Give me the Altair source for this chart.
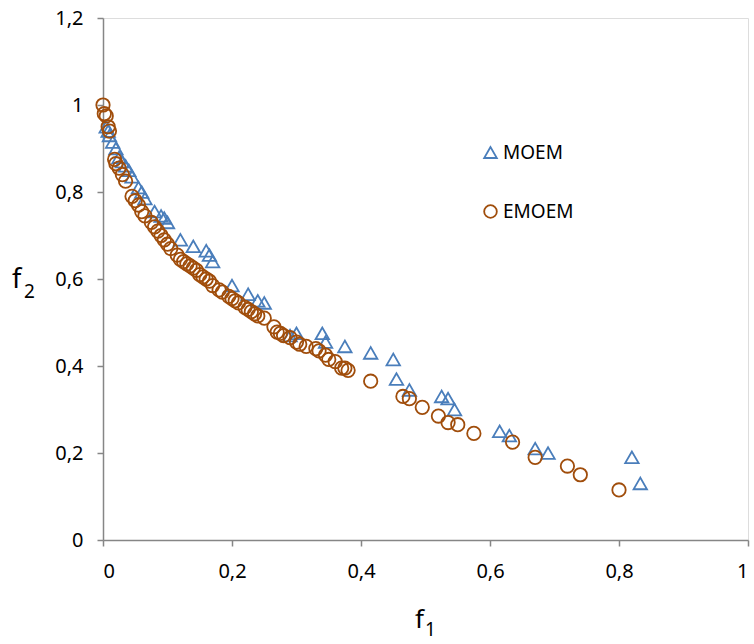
import altair as alt
import pandas as pd

# MOEM (triangles)
f1_moem = [0.833, 0.82, 0.69, 0.67, 0.63, 0.615, 0.545, 0.535, 0.525, 0.475, 0.455, 0.45,
           0.415, 0.375, 0.34, 0.345, 0.30, 0.29, 0.25, 0.24, 0.225, 0.20, 0.17, 0.165,
           0.16, 0.14, 0.12, 0.10, 0.095, 0.09, 0.08, 0.065, 0.06, 0.055, 0.045, 0.04,
           0.035, 0.03, 0.025, 0.02, 0.015, 0.01, 0.008, 0.005]
f2_moem = [0.13, 0.19, 0.20, 0.21, 0.24, 0.25, 0.30, 0.325, 0.33, 0.345, 0.37, 0.415,
           0.43, 0.445, 0.475, 0.455, 0.475, 0.47, 0.545, 0.55, 0.565, 0.585, 0.64, 0.655,
           0.665, 0.675, 0.69, 0.73, 0.74, 0.745, 0.755, 0.785, 0.80, 0.81, 0.835, 0.85,
           0.86, 0.87, 0.88, 0.90, 0.915, 0.93, 0.94, 0.95]

# EMOEM (circles)
f1_emoem = [0.80, 0.74, 0.72, 0.67, 0.635, 0.575, 0.55, 0.535, 0.52, 0.495, 0.475, 0.465,
            0.415, 0.38, 0.375, 0.37, 0.36, 0.35, 0.345, 0.335, 0.33, 0.315, 0.305, 0.30,
            0.29, 0.28, 0.275, 0.27, 0.265, 0.25, 0.24, 0.235, 0.23, 0.225, 0.22, 0.21,
            0.205, 0.20, 0.195, 0.185, 0.18, 0.17, 0.165, 0.16, 0.155, 0.15, 0.145, 0.14,
            0.135, 0.13, 0.125, 0.12, 0.115, 0.105, 0.10, 0.095, 0.09, 0.085, 0.08, 0.075,
            0.065, 0.06, 0.055, 0.05, 0.045, 0.035, 0.03, 0.025, 0.02, 0.018, 0.01, 0.008,
            0.005, 0.002, 0.0]
f2_emoem = [0.115, 0.15, 0.17, 0.19, 0.225, 0.245, 0.265, 0.27, 0.285, 0.305, 0.325, 0.33,
            0.365, 0.39, 0.395, 0.395, 0.41, 0.415, 0.425, 0.435, 0.44, 0.445, 0.45, 0.455,
            0.465, 0.47, 0.475, 0.478, 0.49, 0.51, 0.515, 0.52, 0.525, 0.53, 0.535, 0.545,
            0.55, 0.555, 0.56, 0.57, 0.575, 0.585, 0.595, 0.60, 0.605, 0.61, 0.62, 0.625,
            0.63, 0.635, 0.64, 0.645, 0.655, 0.67, 0.68, 0.69, 0.70, 0.71, 0.72, 0.73,
            0.745, 0.755, 0.77, 0.78, 0.79, 0.825, 0.84, 0.855, 0.865, 0.875, 0.94, 0.95,
            0.975, 0.98, 1.0]

series_names = ["MOEM", "EMOEM"]
series_colors = ["#4a7ebb", "#a04d0b"]
series_shapes = ["triangle-up", "circle"]

df = pd.concat([
    pd.DataFrame({"f1": f1_moem, "f2": f2_moem, "series": "MOEM", "order": 0}),
    pd.DataFrame({"f1": f1_emoem, "f2": f2_emoem, "series": "EMOEM", "order": 1}),
])

FONT = "Noto Sans"
label_expr = "replace(format(datum.value, '~g'), '.', ',')"

axis_common = dict(labelExpr=label_expr, title=None, grid=False, domainColor="#868686",
                   tickColor="#868686", tickSize=6, labelFontSize=20,
                   labelColor="#000000", labelFont=FONT, domainWidth=1.5, tickWidth=1.5)

points = alt.Chart(df).mark_point(filled=False, size=180, strokeWidth=1.8, opacity=1).encode(
    x=alt.X("f1:Q", scale=alt.Scale(domain=[0, 1], nice=False, zero=True),
            axis=alt.Axis(values=[0, 0.2, 0.4, 0.6, 0.8, 1], labelPadding=15, **axis_common)),
    y=alt.Y("f2:Q", scale=alt.Scale(domain=[0, 1.2], nice=False),
            axis=alt.Axis(values=[0, 0.2, 0.4, 0.6, 0.8, 1, 1.2], labelPadding=14, **axis_common)),
    color=alt.Color("series:N", scale=alt.Scale(domain=series_names, range=series_colors),
                    legend=alt.Legend(title=None, orient="none", legendX=378, legendY=125,
                                      labelFontSize=19, labelFont=FONT, labelColor="#000000",
                                      symbolSize=160, symbolStrokeWidth=1.8, rowPadding=38,
                                      labelOffset=3)),
    shape=alt.Shape("series:N", scale=alt.Scale(domain=series_names, range=series_shapes)),
    order=alt.Order("order:Q"),
)

def title_text(txt, x, y, size):
    return alt.Chart(pd.DataFrame({"t": [txt]})).mark_text(
        font=FONT, fontSize=size, color="#000000", align="left", baseline="alphabetic"
    ).encode(text="t:N", x=alt.value(x), y=alt.value(y))

x_title = title_text("f", 312, 610, 26) + title_text("1", 322, 618, 19)
y_title = title_text("f", -91, 270, 27) + title_text("2", -79, 280, 19)

chart = alt.layer(points, x_title, y_title).properties(
    width=645, height=522,
    autosize=alt.AutoSizeParams(type="none"),
    padding={"left": 103, "top": 18, "right": 6, "bottom": 104},
).configure_view(stroke=None).configure(background="white")

chart.save("out.html", embed_options={"renderer": "svg", "actions": False})
